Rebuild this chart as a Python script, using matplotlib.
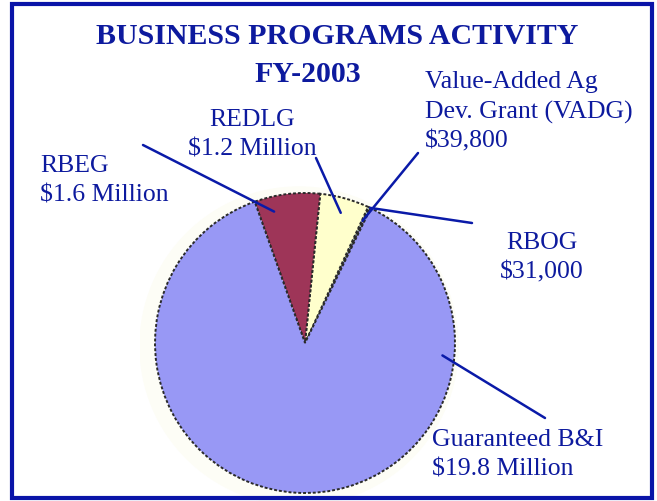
import matplotlib.pyplot as plt
from matplotlib.patches import Rectangle, Circle
import numpy as np

# program activity, FY-2003 (millions of dollars)
programs = ["RBOG", "VADG", "REDLG", "RBEG", "Guaranteed B&I"]
amounts = [0.031, 0.0398, 1.2, 1.6, 19.8]
label_texts = [
    "RBOG\n$31,000",
    "Value-Added Ag\nDev. Grant (VADG)\n$39,800",
    "REDLG\n$1.2 Million",
    "RBEG\n$1.6 Million",
    "Guaranteed B&I\n$19.8 Million",
]
colors = ["#6a0a6a", "#ccffff", "#ffffcc", "#9e3558", "#9898f5"]

W, H = 657, 501
blue = "#0d1a9e"

fig = plt.figure(figsize=(W / 100, H / 100), dpi=100)

# pie centre at (305, 343) px from top-left, radius 150 px
cx, cy, r_px, half = 305, 343, 150, 165
ax = fig.add_axes([(cx - half) / W, (H - cy - half) / H, 2 * half / W, 2 * half / H])

# faint shadow behind the pie
ax.add_patch(Circle((-0.04, -0.02), 1.06, color="#fdfdf6", zorder=0))

wedges, _ = ax.pie(amounts, colors=colors, startangle=64, counterclock=True,
                   wedgeprops=dict(edgecolor="#2a2a2a", linewidth=1.4,
                                   linestyle=(0, (1.5, 1))))
lim = half / r_px
ax.set_xlim(-lim, lim)
ax.set_ylim(-lim, lim)
ax.set_aspect("equal")
ax.axis("off")

# leader lines: (fraction along wedge, radius) -> label end point in px (top-left origin)
anchors = [(0.5, 1.0), (0.5, 0.9), (0.5, 0.9), (0.75, 0.9), (0.78, 0.92)]
line_starts = [(472, 223), (418, 153), (316, 158), (143, 145), (545, 418)]
for w, (f, rr), (lx, ly) in zip(wedges, anchors, line_starts):
    ang = np.deg2rad(w.theta1 + f * (w.theta2 - w.theta1))
    ax.annotate("", xy=(rr * np.cos(ang), rr * np.sin(ang)),
                xytext=(lx, H - ly), textcoords="figure pixels",
                arrowprops=dict(arrowstyle="-", color="#0a1aa8", lw=1.8,
                                shrinkA=0, shrinkB=0),
                annotation_clip=False)

# label blocks: (x px, centre y px, alignment)
label_pos = [(542, 258, "center"), (425, 112, "left"), (252, 135, "center"),
             (40, 181, "left"), (432, 455, "left")]
for txt, (x, y, ha) in zip(label_texts, label_pos):
    fig.text(x / W, 1 - y / H, txt, ha=ha, va="center", color=blue,
             family="Liberation Serif", fontsize=18.5, linespacing=1.42,
             multialignment=ha)

fig.text(337 / W, 1 - 37 / H, "BUSINESS PROGRAMS ACTIVITY", ha="center",
         va="center", color=blue, family="Liberation Serif", fontsize=21.5,
         fontweight="bold")
fig.text(308 / W, 1 - 75 / H, "FY-2003", ha="center", va="center",
         color=blue, family="Liberation Serif", fontsize=21.5, fontweight="bold")

# blue frame around the slide
fig.patches.append(Rectangle((12 / W, 3 / H), 640 / W, 494 / H, fill=False,
                             edgecolor="#0a14a8", linewidth=3,
                             transform=fig.transFigure))

fig.savefig("out.png", dpi=100)
